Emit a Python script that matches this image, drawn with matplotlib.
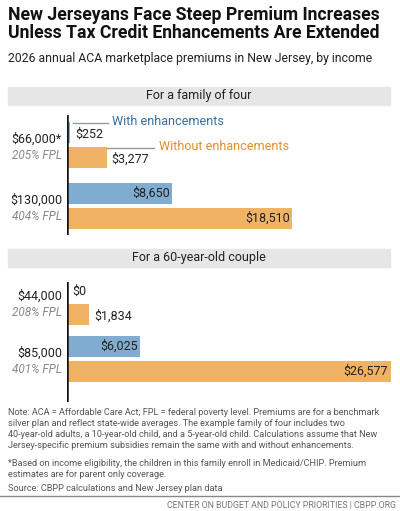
import matplotlib
matplotlib.use("Agg")
import matplotlib.pyplot as plt
from matplotlib.patches import Rectangle

plt.rcParams['font.family'] = ['Roboto', 'DejaVu Sans']

panels = ["For a family of four", "For a 60-year-old couple"]
incomes = [["$66,000*", "$130,000"], ["$44,000", "$85,000"]]
fpl = [["205% FPL", "404% FPL"], ["208% FPL", "401% FPL"]]
with_enh = [[252, 8650], [0, 6025]]
without_enh = [[3277, 18510], [1834, 26577]]
series = ["With enhancements", "Without enhancements"]

BLUE = "#80acd2"; ORANGE = "#f0b264"
BLUE_T = "#2f6ea9"; ORANGE_T = "#e08e2b"
W, H = 400, 511
fig = plt.figure(figsize=(4, 5.11), dpi=100)

def fy(py): return 1 - py / H
def fx(px): return px / W

fig.text(fx(8), fy(6), "New Jerseyans Face Steep Premium Increases\nUnless Tax Credit Enhancements Are Extended",
         fontsize=12.7, fontweight='bold', va='top', ha='left', linespacing=1.0, color='#111111')
fig.text(fx(8), fy(52), "2026 annual ACA marketplace premiums in New Jersey, by income",
         fontsize=8.8, va='top', ha='left', color='#222222')

headers = [87, 249]
ax_tops = [115, 282]
ax_h = 120
xmax = 26577
for p in range(2):
    fig.patches.append(Rectangle((fx(8), fy(headers[p] + 18)), fx(382), 18 / H,
                                 transform=fig.transFigure, color='#e6e6e6', zorder=0))
    fig.text(0.5 * (fx(8) + fx(390)), fy(headers[p] + 9), panels[p], ha='center', va='center',
             fontsize=9, color='#222222')
    ax = fig.add_axes([fx(67), fy(ax_tops[p] + ax_h), fx(391) - fx(67), ax_h / H])
    ax.set_xlim(0, xmax * (324.5 / 324))
    ax.set_ylim(ax_h, 0)
    ax.axis('off')
    ax.axvline(0, color='#111111', lw=1.8)
    for g in range(2):
        c = 30 + g * 61 if p == 0 else 20 + g * 57
        yb, yo = c - 12.5, c + 12.5
        for val, y, col in ((with_enh[p][g], yb, BLUE), (without_enh[p][g], yo, ORANGE)):
            ax.barh(y, val, height=21, color=col, left=0)
            lbl = f"${val:,}"
            if val > 5000:
                ax.text(val - xmax * 0.008, y, lbl, ha='right', va='center', fontsize=9, color='#222222')
            else:
                ax.text(val + xmax * 0.015, y + 2, lbl, ha='left', va='center', fontsize=9, color='#222222')
        fig.text(fx(62), fy(ax_tops[p] + c - 6), incomes[p][g], ha='right', va='center', fontsize=9, color='#222222')
        fig.text(fx(62), fy(ax_tops[p] + c + 10), fpl[p][g], ha='right', va='center', fontsize=8.5,
                 style='italic', color='#888888')
        if p == 0 and g == 0:
            ax.plot([with_enh[p][g] + 200, xmax * 0.128], [yb - 10, yb - 10], color='#999999', lw=1)
            ax.text(xmax * 0.14, yb - 11, series[0], ha='left', va='center', fontsize=9, color=BLUE_T)
            ax.plot([without_enh[p][g], xmax * 0.27], [yo - 10, yo - 10], color='#999999', lw=1)
            ax.text(xmax * 0.283, yo - 11, series[1], ha='left', va='center', fontsize=9, color=ORANGE_T)

notes = ("Note: ACA = Affordable Care Act; FPL = federal poverty level. Premiums are for a benchmark\n"
         "silver plan and reflect state-wide averages. The example family of four includes two\n"
         "40-year-old adults, a 10-year-old child, and a 5-year-old child. Calculations assume that New\n"
         "Jersey-specific premium subsidies remain the same with and without enhancements.")
fig.text(fx(8), fy(408), notes, fontsize=6.6, va='top', ha='left', color='#555555', linespacing=1.3)
fig.text(fx(8), fy(459), "*Based on income eligibility, the children in this family enroll in Medicaid/CHIP. Premium\nestimates are for parent only coverage.",
         fontsize=6.6, va='top', ha='left', color='#555555', linespacing=1.3)
fig.text(fx(8), fy(484), "Source: CBPP calculations and New Jersey plan data",
         fontsize=6.6, va='top', ha='left', color='#555555')
fig.add_artist(plt.Line2D([0, 1], [fy(496), fy(496)], color='#888888', lw=1, transform=fig.transFigure))
fig.text(fx(396), fy(505), "CENTER ON BUDGET AND POLICY PRIORITIES | CBPP.ORG", fontsize=6.3, ha='right', va='center',
         color='#777777')
fig.savefig("out.png", dpi=100)
